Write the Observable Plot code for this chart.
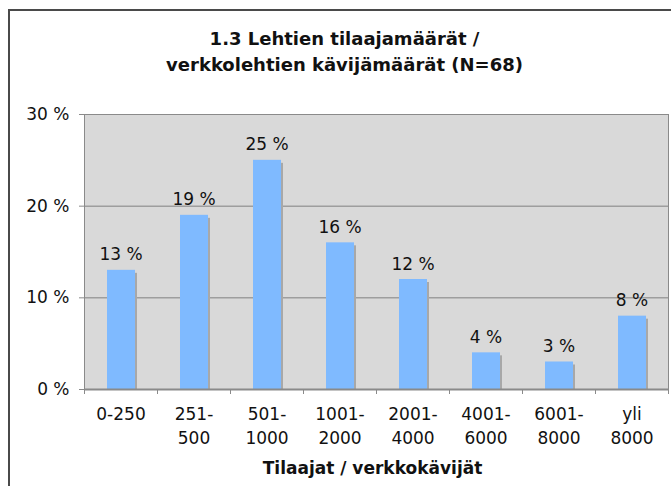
<!DOCTYPE html>
<html>
<head>
<meta charset="utf-8">
<script src="https://cdn.jsdelivr.net/npm/d3@7"></script>
<script src="https://cdn.jsdelivr.net/npm/@observablehq/plot@0.6"></script>
<style>
  html, body { margin: 0; padding: 0; background: #fff; }
  #wrap { position: relative; width: 671px; height: 486px; overflow: hidden; }
  #border { position: absolute; left: 8px; top: 9px; width: 700px; height: 520px; border: 2px solid #4a4a4a; box-sizing: border-box; }
  #chart { position: absolute; left: 0; top: 0; }
</style>
</head>
<body>
<div id="wrap"><div id="border"></div><div id="chart"></div></div>
<script>
const categories = ["0-250", "251-\n500", "501-\n1000", "1001-\n2000", "2001-\n4000", "4001-\n6000", "6001-\n8000", "yli\n8000"];
const values = [13, 19, 25, 16, 12, 4, 3, 8];
const yTicks = [0, 10, 20, 30];
const title = "1.3 Lehtien tilaajamäärät /\nverkkolehtien kävijämäärät (N=68)";
const xTitle = "Tilaajat / verkkokävijät";

const data = categories.map((c, i) => ({i, c, v: values[i]}));

const chart = Plot.plot({
  width: 671,
  height: 486,
  marginLeft: 84,
  marginRight: 3,
  marginTop: 114,
  marginBottom: 97,
  style: {fontFamily: "DejaVu Sans, Verdana, sans-serif", fontSize: "17px", background: "transparent", color: "#111"},
  x: {type: "linear", domain: [0, categories.length]},
  y: {domain: [0, 30]},
  marks: [
    Plot.frame({fill: "#d9d9d9"}),
    Plot.ruleY(yTicks.filter(d => d > 0), {stroke: "#808080", strokeWidth: 1}),
    Plot.rectY(data, {x1: "i", x2: d => d.i + 1, y: "v", insetLeft: 25, insetRight: 20, insetTop: 3, fill: "#a8a8a8"}),
    Plot.rectY(data, {x1: "i", x2: d => d.i + 1, y: "v", insetLeft: 23, insetRight: 22, fill: "#7fbaff"}),
    Plot.frame({stroke: "#8a8a8a", strokeWidth: 1}),
    Plot.ruleY([0], {stroke: "#8a8a8a", strokeWidth: 2}),
    Plot.axisY({ticks: yTicks, tickFormat: d => d + " %", tickSize: 5, tickPadding: 10, label: null, stroke: "#8a8a8a", fill: "#111"}),
    Plot.axisX({ticks: d3.range(categories.length + 1), tickFormat: () => "", tickSize: 5, label: null, stroke: "#8a8a8a"}),
    Plot.text(data, {x: d => d.i + 0.5, y: 0, text: "c", lineAnchor: "top", dy: 14, lineHeight: 1.38, fill: "#111"}),
    Plot.text(data, {x: d => d.i + 0.5, y: "v", text: d => d.v + " %", lineAnchor: "bottom", dy: -10, fill: "#111"}),
    Plot.text([title], {frameAnchor: "top", dx: -32, dy: -87, lineAnchor: "top", lineHeight: 1.4, fontWeight: "bold", fontSize: 18, fill: "#111"}),
    Plot.text([xTitle], {frameAnchor: "bottom", dx: -4, dy: 72, lineAnchor: "top", fontWeight: "bold", fontSize: 17, fill: "#111"})
  ]
});
document.getElementById("chart").appendChild(chart);
</script>
</body>
</html>
